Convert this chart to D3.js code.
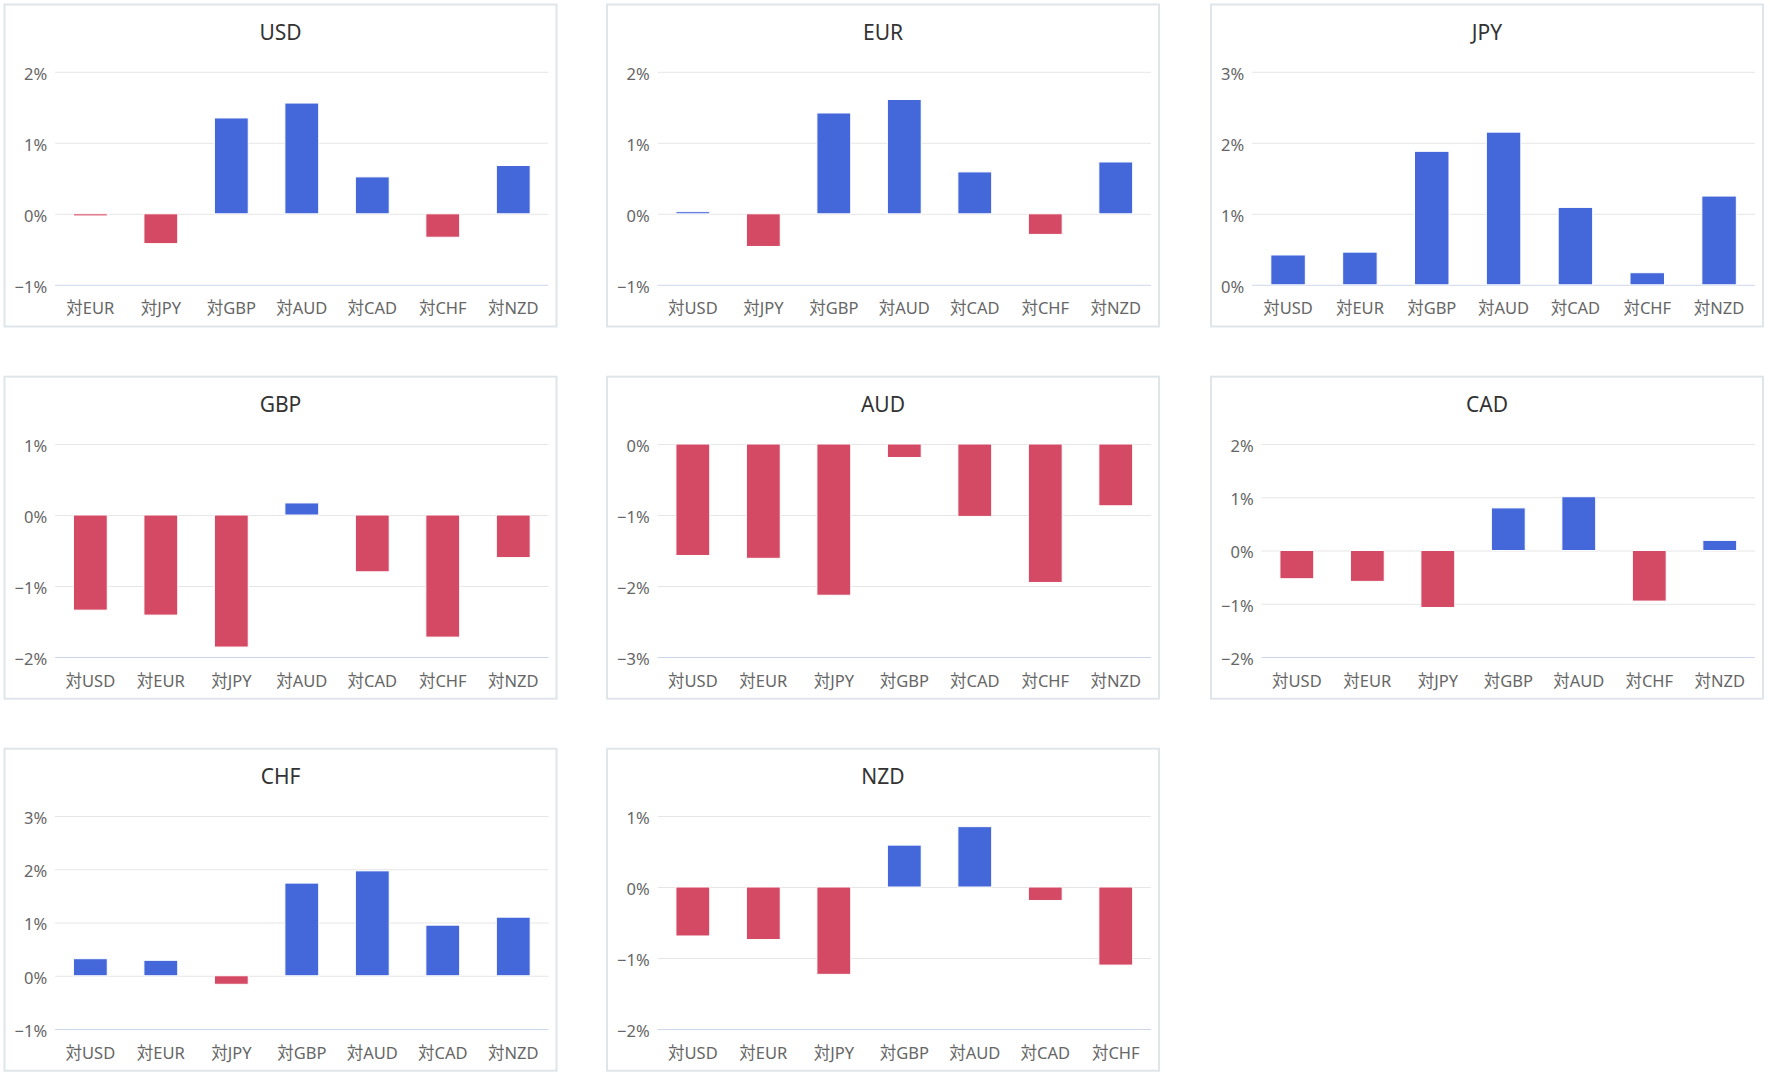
<!DOCTYPE html>
<html>
<head>
<meta charset="utf-8">
<script src="https://cdn.jsdelivr.net/npm/d3@7"></script>
<style>
  html, body { margin: 0; padding: 0; background: #ffffff; }
  svg { display: block; }
  text { font-family: "Noto Sans", "Noto Sans CJK JP", sans-serif; }
</style>
</head>
<body>
<svg id="chart" width="1770" height="1082"></svg>
<script>
// ---- Data ----
const titles = ["USD", "EUR", "JPY", "GBP", "AUD", "CAD", "CHF", "NZD"];

const categoriesUSD = ["対EUR", "対JPY", "対GBP", "対AUD", "対CAD", "対CHF", "対NZD"];
const valuesUSD = [-0.03, -0.42, 1.35, 1.56, 0.52, -0.33, 0.68];
const ticksUSD = [-1, 0, 1, 2];

const categoriesEUR = ["対USD", "対JPY", "対GBP", "対AUD", "対CAD", "対CHF", "対NZD"];
const valuesEUR = [0.03, -0.46, 1.42, 1.61, 0.59, -0.29, 0.73];
const ticksEUR = [-1, 0, 1, 2];

const categoriesJPY = ["対USD", "対EUR", "対GBP", "対AUD", "対CAD", "対CHF", "対NZD"];
const valuesJPY = [0.42, 0.46, 1.88, 2.15, 1.09, 0.17, 1.25];
const ticksJPY = [0, 1, 2, 3];

const categoriesGBP = ["対USD", "対EUR", "対JPY", "対AUD", "対CAD", "対CHF", "対NZD"];
const valuesGBP = [-1.34, -1.41, -1.86, 0.17, -0.80, -1.72, -0.60];
const ticksGBP = [-2, -1, 0, 1];

const categoriesAUD = ["対USD", "対EUR", "対JPY", "対GBP", "対CAD", "対CHF", "対NZD"];
const valuesAUD = [-1.57, -1.61, -2.13, -0.19, -1.02, -1.95, -0.87];
const ticksAUD = [-3, -2, -1, 0];

const categoriesCAD = ["対USD", "対EUR", "対JPY", "対GBP", "対AUD", "対CHF", "対NZD"];
const valuesCAD = [-0.53, -0.58, -1.07, 0.80, 1.01, -0.95, 0.19];
const ticksCAD = [-2, -1, 0, 1, 2];

const categoriesCHF = ["対USD", "対EUR", "対JPY", "対GBP", "対AUD", "対CAD", "対NZD"];
const valuesCHF = [0.32, 0.29, -0.16, 1.74, 1.97, 0.95, 1.10];
const ticksCHF = [-1, 0, 1, 2, 3];

const categoriesNZD = ["対USD", "対EUR", "対JPY", "対GBP", "対AUD", "対CAD", "対CHF"];
const valuesNZD = [-0.69, -0.74, -1.23, 0.59, 0.85, -0.19, -1.10];
const ticksNZD = [-2, -1, 0, 1];

const panels = [
  { title: titles[0], cats: categoriesUSD, vals: valuesUSD, ticks: ticksUSD },
  { title: titles[1], cats: categoriesEUR, vals: valuesEUR, ticks: ticksEUR },
  { title: titles[2], cats: categoriesJPY, vals: valuesJPY, ticks: ticksJPY },
  { title: titles[3], cats: categoriesGBP, vals: valuesGBP, ticks: ticksGBP },
  { title: titles[4], cats: categoriesAUD, vals: valuesAUD, ticks: ticksAUD },
  { title: titles[5], cats: categoriesCAD, vals: valuesCAD, ticks: ticksCAD },
  { title: titles[6], cats: categoriesCHF, vals: valuesCHF, ticks: ticksCHF },
  { title: titles[7], cats: categoriesNZD, vals: valuesNZD, ticks: ticksNZD }
];

// ---- Layout / style ----
const colX = [4.5, 607, 1211];
const rowY = [4.5, 376.7, 748.7];
const PW = 552, PH = 322;
const plotTop = 67.3, plotBottom = 280.3, plotRight = 544;
const POS = "#4467DA", NEG = "#D44A64";
const tickFont = 16.5, catFont = 16.5, titleFont = 21;

const fmt = d => (d < 0 ? "\u2212" : "") + Math.abs(d) + "%";

const svg = d3.select("#chart");

panels.forEach((p, i) => {
  const px = colX[i % 3], py = rowY[Math.floor(i / 3)];
  const g = svg.append("g").attr("transform", `translate(${px},${py})`);

  g.append("rect")
    .attr("x", 0).attr("y", 0).attr("width", PW).attr("height", PH)
    .attr("fill", "#ffffff").attr("stroke", "#dfe5e9").attr("stroke-width", 2);

  g.append("text")
    .attr("x", PW / 2).attr("y", 35.5)
    .attr("text-anchor", "middle")
    .attr("fill", "#333333")
    .style("font-size", titleFont + "px")
    .text(p.title);

  // measure tick label widths
  const tmp = g.append("g");
  let maxW = 0;
  p.ticks.forEach(t => {
    const tt = tmp.append("text").style("font-size", tickFont + "px").text(fmt(t));
    maxW = Math.max(maxW, tt.node().getComputedTextLength());
  });
  tmp.remove();
  const plotLeft = 10 + maxW + 8;
  const plotW = plotRight - plotLeft;

  const y = d3.scaleLinear()
    .domain([d3.min(p.ticks), d3.max(p.ticks)])
    .range([plotBottom, plotTop]);
  const x = d3.scaleBand()
    .domain(p.cats)
    .range([plotLeft, plotRight])
    .paddingInner(0.52)
    .paddingOuter(0.26);

  const yAxis = g.append("g")
    .attr("transform", `translate(${plotLeft},0)`)
    .call(d3.axisLeft(y).tickValues(p.ticks).tickSize(-plotW).tickPadding(8).tickFormat(fmt));
  yAxis.select(".domain").remove();
  yAxis.selectAll(".tick line")
    .attr("stroke", d => d === d3.min(p.ticks) ? "#ccd6eb" : "#e6e6e6")
    .attr("stroke-width", 1);
  yAxis.selectAll(".tick text")
    .attr("fill", "#666666")
    .attr("dy", "0.45em")
    .style("font-size", tickFont + "px")
    .attr("font-family", null);
  yAxis.attr("font-family", null).attr("font-size", null);

  const xAxis = g.append("g")
    .attr("transform", `translate(0,${plotBottom})`)
    .call(d3.axisBottom(x).tickSize(0).tickPadding(0));
  xAxis.select(".domain").remove();
  xAxis.selectAll(".tick text")
    .attr("y", 29.5).attr("dy", 0)
    .attr("fill", "#666666")
    .style("font-size", catFont + "px");
  xAxis.attr("font-family", null).attr("font-size", null);

  g.append("g").selectAll("rect")
    .data(p.vals.map((v, k) => ({ cat: p.cats[k], v })))
    .join("rect")
    .attr("x", d => x(d.cat))
    .attr("width", x.bandwidth())
    .attr("y", d => y(Math.max(0, d.v)))
    .attr("height", d => Math.abs(y(d.v) - y(0)))
    .attr("fill", d => d.v >= 0 ? POS : NEG)
    .attr("stroke", "#ffffff")
    .attr("stroke-width", 1);
});
</script>
</body>
</html>
